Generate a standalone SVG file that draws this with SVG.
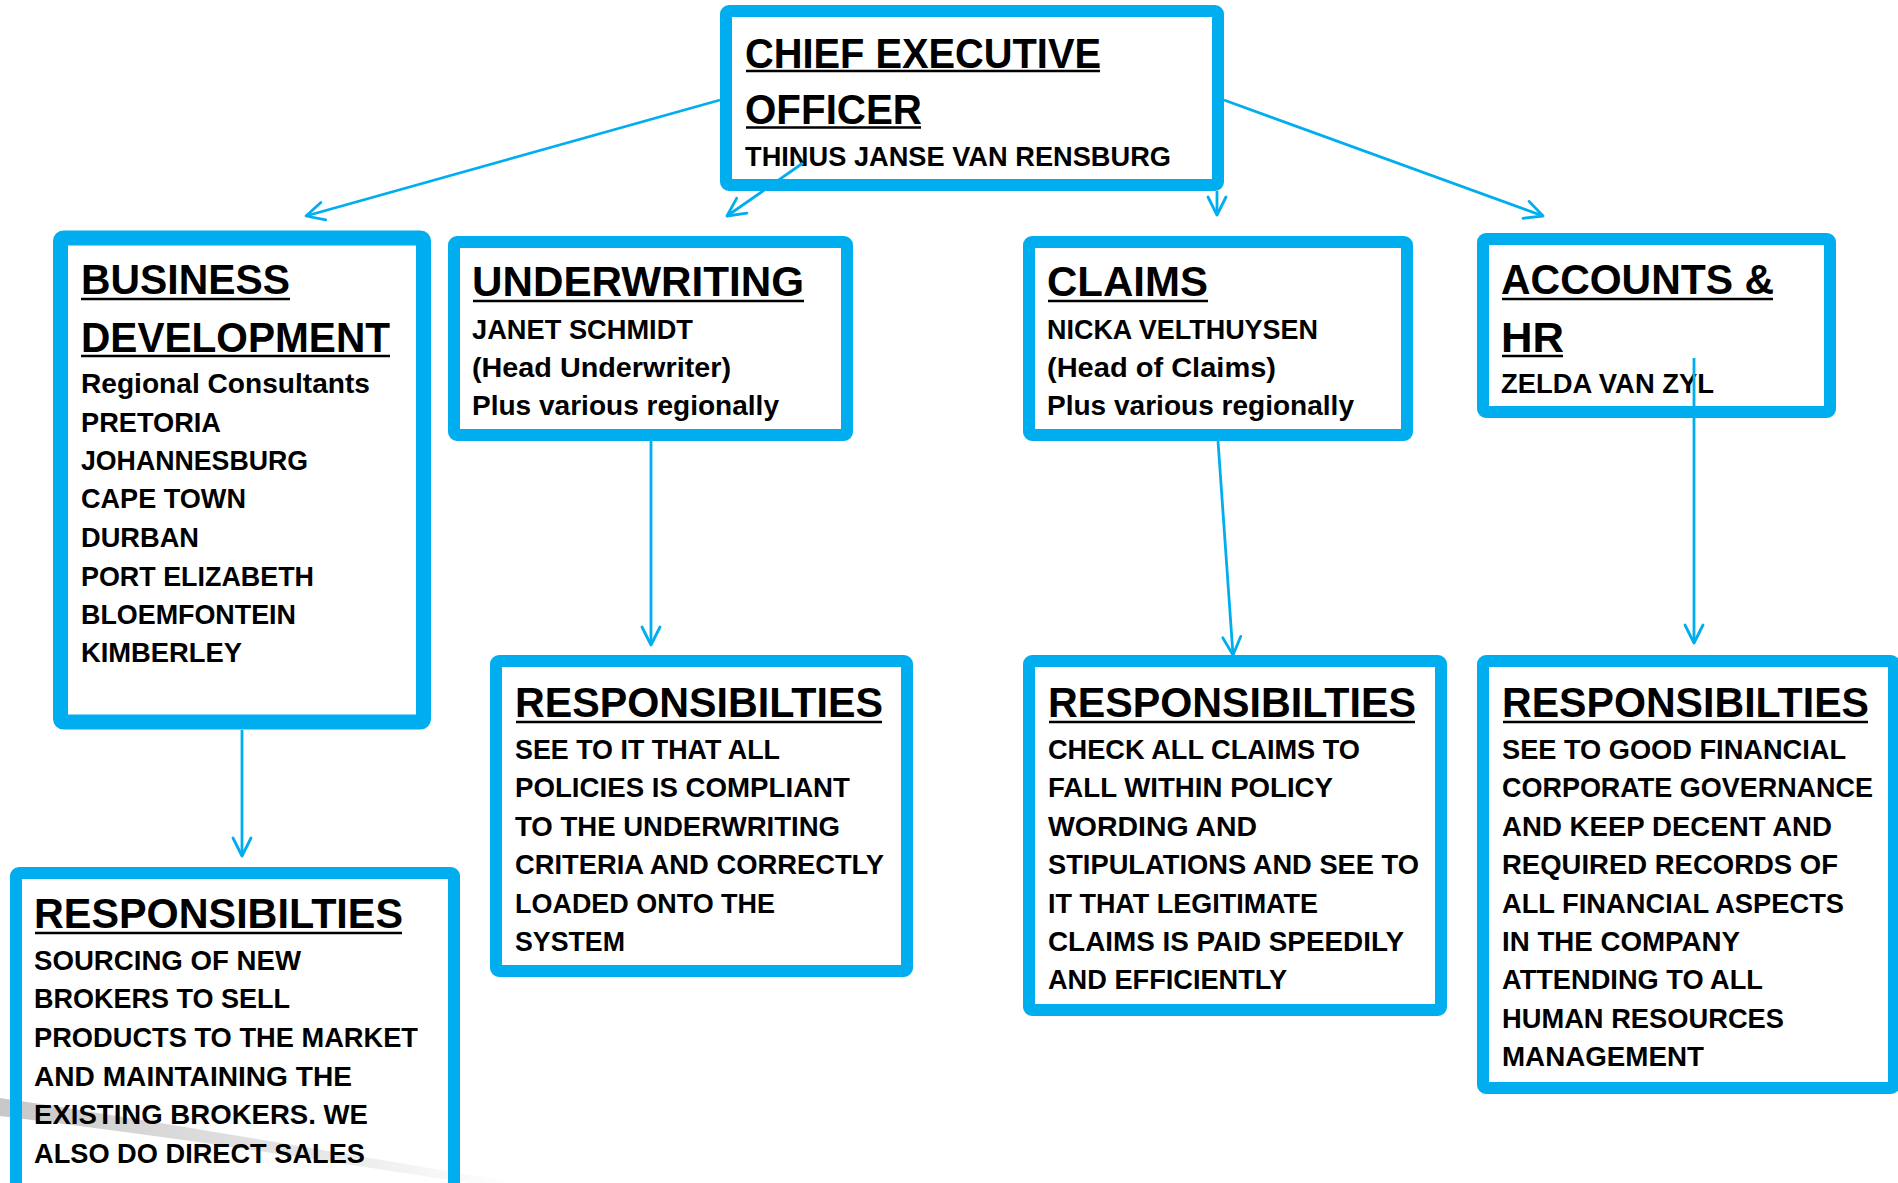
<svg xmlns="http://www.w3.org/2000/svg" width="1898" height="1183" viewBox="0 0 1898 1183">
<style>
.box{fill:none;stroke:#00AEEF;stroke-width:12;stroke-linejoin:round}
.h{font-family:"Liberation Sans","Arial",sans-serif;font-weight:bold;font-size:43px;fill:#000}
.t{font-family:"Liberation Sans","Arial",sans-serif;font-weight:bold;font-size:28px;fill:#000}
.ul{stroke:#000;stroke-width:2.5}
.c{fill:none;stroke:#00AEEF;stroke-width:2.8;marker-end:url(#ah)}
</style>
<defs>
<marker id="ah" markerUnits="userSpaceOnUse" viewBox="-22 -12 26 24" refX="0" refY="0" markerWidth="26" markerHeight="24" orient="auto" overflow="visible">
<path d="M-18,-9 L0,0 L-18,9" fill="none" stroke="#00AEEF" stroke-width="2.8" stroke-linecap="round" stroke-linejoin="round"/>
</marker>
<linearGradient id="sw" x1="0" y1="0" x2="1" y2="0">
<stop offset="0" stop-color="#9a9a9a" stop-opacity="0.55"/>
<stop offset="0.6" stop-color="#b5b5b5" stop-opacity="0.35"/>
<stop offset="1" stop-color="#d0d0d0" stop-opacity="0"/>
</linearGradient>
</defs>
<rect width="1898" height="1183" fill="#fff"/>
<path d="M0,1098 C150,1120 320,1150 520,1183 L470,1183 C320,1160 160,1135 0,1116 Z" fill="url(#sw)"/>

<g id="ceo">
<rect class="box" x="726" y="11" width="492" height="174" rx="3"/>
<text class="h" x="745" y="68" font-size="46" textLength="356" lengthAdjust="spacingAndGlyphs">CHIEF EXECUTIVE</text>
<line class="ul" x1="746" y1="71" x2="1100" y2="71"/>
<text class="h" x="745" y="124" font-size="46" textLength="177" lengthAdjust="spacingAndGlyphs">OFFICER</text>
<line class="ul" x1="746" y1="127.5" x2="921" y2="127.5"/>
<text class="t" x="745" y="166" textLength="426" lengthAdjust="spacingAndGlyphs">THINUS JANSE VAN RENSBURG</text>
</g>

<g id="business-development">
<rect class="box" x="60.5" y="238" width="363" height="484" rx="3" style="stroke-width:15"/>
<text class="h" x="81" y="294" textLength="209" lengthAdjust="spacingAndGlyphs">BUSINESS</text>
<line class="ul" x1="81" y1="299" x2="290" y2="299"/>
<text class="h" x="81" y="352" textLength="309" lengthAdjust="spacingAndGlyphs">DEVELOPMENT</text>
<line class="ul" x1="81" y1="356" x2="390" y2="356"/>
<text class="t" x="81" y="393" textLength="289" lengthAdjust="spacingAndGlyphs">Regional Consultants</text>
<text class="t" x="81" y="432" textLength="140" lengthAdjust="spacingAndGlyphs">PRETORIA</text>
<text class="t" x="81" y="470" textLength="227" lengthAdjust="spacingAndGlyphs">JOHANNESBURG</text>
<text class="t" x="81" y="508" textLength="165" lengthAdjust="spacingAndGlyphs">CAPE TOWN</text>
<text class="t" x="81" y="547" textLength="118" lengthAdjust="spacingAndGlyphs">DURBAN</text>
<text class="t" x="81" y="586" textLength="233" lengthAdjust="spacingAndGlyphs">PORT ELIZABETH</text>
<text class="t" x="81" y="624" textLength="215" lengthAdjust="spacingAndGlyphs">BLOEMFONTEIN</text>
<text class="t" x="81" y="662" textLength="161" lengthAdjust="spacingAndGlyphs">KIMBERLEY</text>
</g>

<g id="underwriting">
<rect class="box" x="454" y="242" width="393" height="193" rx="3"/>
<text class="h" x="472" y="296" textLength="332" lengthAdjust="spacingAndGlyphs">UNDERWRITING</text>
<line class="ul" x1="473" y1="301" x2="804" y2="301"/>
<text class="t" x="472" y="339" textLength="221" lengthAdjust="spacingAndGlyphs">JANET SCHMIDT</text>
<text class="t" x="472" y="377" textLength="259" lengthAdjust="spacingAndGlyphs">(Head Underwriter)</text>
<text class="t" x="472" y="415" textLength="307" lengthAdjust="spacingAndGlyphs">Plus various regionally</text>
</g>

<g id="claims">
<rect class="box" x="1029" y="242" width="378" height="193" rx="3"/>
<text class="h" x="1047" y="296" textLength="161" lengthAdjust="spacingAndGlyphs">CLAIMS</text>
<line class="ul" x1="1048" y1="301" x2="1208" y2="301"/>
<text class="t" x="1047" y="339" textLength="271" lengthAdjust="spacingAndGlyphs">NICKA VELTHUYSEN</text>
<text class="t" x="1047" y="377" textLength="229" lengthAdjust="spacingAndGlyphs">(Head of Claims)</text>
<text class="t" x="1047" y="415" textLength="307" lengthAdjust="spacingAndGlyphs">Plus various regionally</text>
</g>

<g id="accounts-hr">
<rect class="box" x="1483" y="239" width="347" height="173" rx="3"/>
<text class="h" x="1501" y="294" textLength="273" lengthAdjust="spacingAndGlyphs">ACCOUNTS &amp;</text>
<line class="ul" x1="1502" y1="299" x2="1773" y2="299"/>
<text class="h" x="1501" y="352" textLength="63" lengthAdjust="spacingAndGlyphs">HR</text>
<line class="ul" x1="1502" y1="356" x2="1563" y2="356"/>
<text class="t" x="1501" y="393" textLength="213" lengthAdjust="spacingAndGlyphs">ZELDA VAN ZYL</text>
</g>

<g id="bd-responsibilities">
<rect class="box" x="16" y="873" width="438" height="316" rx="3"/>
<text class="h" x="34" y="928" textLength="369" lengthAdjust="spacingAndGlyphs">RESPONSIBILTIES</text>
<line class="ul" x1="35" y1="933" x2="402" y2="933"/>
<text class="t" x="34" y="970" textLength="267" lengthAdjust="spacingAndGlyphs">SOURCING OF NEW</text>
<text class="t" x="34" y="1008" textLength="256" lengthAdjust="spacingAndGlyphs">BROKERS TO SELL</text>
<text class="t" x="34" y="1047" textLength="384" lengthAdjust="spacingAndGlyphs">PRODUCTS TO THE MARKET</text>
<text class="t" x="34" y="1086" textLength="318" lengthAdjust="spacingAndGlyphs">AND MAINTAINING THE</text>
<text class="t" x="34" y="1124" textLength="334" lengthAdjust="spacingAndGlyphs">EXISTING BROKERS. WE</text>
<text class="t" x="34" y="1163" textLength="331" lengthAdjust="spacingAndGlyphs">ALSO DO DIRECT SALES</text>
</g>

<g id="uw-responsibilities">
<rect class="box" x="496" y="661" width="411" height="310" rx="3"/>
<text class="h" x="515" y="717" textLength="368" lengthAdjust="spacingAndGlyphs">RESPONSIBILTIES</text>
<line class="ul" x1="516" y1="722" x2="882" y2="722"/>
<text class="t" x="515" y="759" textLength="265" lengthAdjust="spacingAndGlyphs">SEE TO IT THAT ALL</text>
<text class="t" x="515" y="797" textLength="335" lengthAdjust="spacingAndGlyphs">POLICIES IS COMPLIANT</text>
<text class="t" x="515" y="836" textLength="325" lengthAdjust="spacingAndGlyphs">TO THE UNDERWRITING</text>
<text class="t" x="515" y="874" textLength="369" lengthAdjust="spacingAndGlyphs">CRITERIA AND CORRECTLY</text>
<text class="t" x="515" y="913" textLength="260" lengthAdjust="spacingAndGlyphs">LOADED ONTO THE</text>
<text class="t" x="515" y="951" textLength="110" lengthAdjust="spacingAndGlyphs">SYSTEM</text>
</g>

<g id="claims-responsibilities">
<rect class="box" x="1029" y="661" width="412" height="349" rx="3"/>
<text class="h" x="1048" y="717" textLength="368" lengthAdjust="spacingAndGlyphs">RESPONSIBILTIES</text>
<line class="ul" x1="1049" y1="722" x2="1415" y2="722"/>
<text class="t" x="1048" y="759" textLength="312" lengthAdjust="spacingAndGlyphs">CHECK ALL CLAIMS TO</text>
<text class="t" x="1048" y="797" textLength="285" lengthAdjust="spacingAndGlyphs">FALL WITHIN POLICY</text>
<text class="t" x="1048" y="836" textLength="209" lengthAdjust="spacingAndGlyphs">WORDING AND</text>
<text class="t" x="1048" y="874" textLength="371" lengthAdjust="spacingAndGlyphs">STIPULATIONS AND SEE TO</text>
<text class="t" x="1048" y="913" textLength="270" lengthAdjust="spacingAndGlyphs">IT THAT LEGITIMATE</text>
<text class="t" x="1048" y="951" textLength="356" lengthAdjust="spacingAndGlyphs">CLAIMS IS PAID SPEEDILY</text>
<text class="t" x="1048" y="989" textLength="239" lengthAdjust="spacingAndGlyphs">AND EFFICIENTLY</text>
</g>

<g id="accounts-responsibilities">
<rect class="box" x="1483" y="661" width="411" height="427" rx="3"/>
<text class="h" x="1502" y="717" textLength="367" lengthAdjust="spacingAndGlyphs">RESPONSIBILTIES</text>
<line class="ul" x1="1503" y1="722" x2="1868" y2="722"/>
<text class="t" x="1502" y="759" textLength="344" lengthAdjust="spacingAndGlyphs">SEE TO GOOD FINANCIAL</text>
<text class="t" x="1502" y="797" textLength="371" lengthAdjust="spacingAndGlyphs">CORPORATE GOVERNANCE</text>
<text class="t" x="1502" y="836" textLength="330" lengthAdjust="spacingAndGlyphs">AND KEEP DECENT AND</text>
<text class="t" x="1502" y="874" textLength="336" lengthAdjust="spacingAndGlyphs">REQUIRED RECORDS OF</text>
<text class="t" x="1502" y="913" textLength="342" lengthAdjust="spacingAndGlyphs">ALL FINANCIAL ASPECTS</text>
<text class="t" x="1502" y="951" textLength="238" lengthAdjust="spacingAndGlyphs">IN THE COMPANY</text>
<text class="t" x="1502" y="989" textLength="261" lengthAdjust="spacingAndGlyphs">ATTENDING TO ALL</text>
<text class="t" x="1502" y="1028" textLength="282" lengthAdjust="spacingAndGlyphs">HUMAN RESOURCES</text>
<text class="t" x="1502" y="1066" textLength="202" lengthAdjust="spacingAndGlyphs">MANAGEMENT</text>
</g>

<g id="connectors">
<line class="c" x1="720" y1="100" x2="306" y2="216"/>
<line class="c" x1="803" y1="163" x2="727" y2="216"/>
<line class="c" x1="1217" y1="191" x2="1217" y2="215"/>
<line class="c" x1="1224" y1="100" x2="1543" y2="216"/>
<line class="c" x1="242" y1="730" x2="242" y2="856"/>
<line class="c" x1="651" y1="441" x2="651" y2="645"/>
<line class="c" x1="1218" y1="441" x2="1233" y2="655"/>
<line class="c" x1="1694" y1="358" x2="1694" y2="643"/>
</g>
</svg>
